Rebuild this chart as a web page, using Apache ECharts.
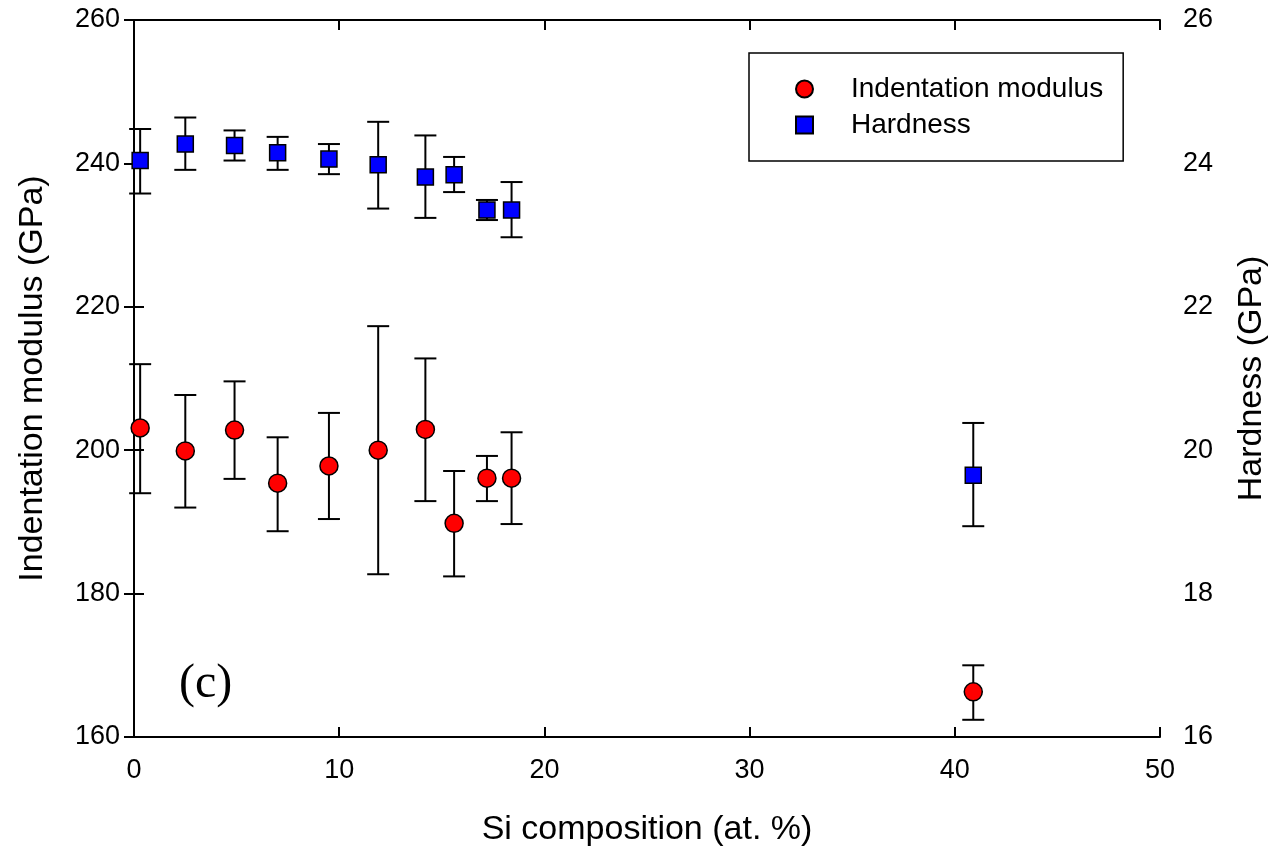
<!DOCTYPE html>
<html lang="en">

<head>
  <meta charset="UTF-8">
  <title>Indentation modulus and hardness vs Si composition</title>
  <script src="https://cdn.jsdelivr.net/npm/echarts@6/dist/echarts.min.js"></script>
</head>

<body style="margin:0">
  <div id="main" style="width: 1272px;height:852px;"></div>

  <script>
    // Si composition (at. %)
    var siComp = [0.3, 2.5, 4.9, 7.0, 9.5, 11.9, 14.2, 15.6, 17.2, 18.4, 40.9];
    // indentation modulus (GPa) with error bar ends
    var modulus = [203.1, 199.9, 202.8, 195.4, 197.8, 200.0, 202.9, 189.8, 196.1, 196.1, 166.3];
    var modulusLow = [194.0, 192.0, 196.0, 188.7, 190.4, 182.7, 192.9, 182.4, 192.9, 189.7, 162.4];
    var modulusHigh = [212.0, 207.7, 209.6, 201.8, 205.2, 217.3, 212.8, 197.1, 199.2, 202.5, 170.0];
    // hardness (GPa) with error bar ends
    var hardness = [24.04, 24.27, 24.25, 24.15, 24.06, 23.98, 23.81, 23.84, 23.35, 23.35, 19.65];
    var hardnessLow = [23.58, 23.91, 24.04, 23.91, 23.85, 23.37, 23.24, 23.60, 23.21, 22.97, 18.94];
    var hardnessHigh = [24.48, 24.64, 24.46, 24.37, 24.27, 24.58, 24.39, 24.09, 23.49, 23.74, 20.38];

    var font = 'Liberation Sans, Arial, sans-serif';

    function pairs(xs, ys) {
      return xs.map(function (x, i) { return [x, ys[i]]; });
    }

    function bars(xs, lo, hi) {
      return xs.map(function (x, i) { return [x, lo[i], hi[i]]; });
    }

    // vertical error bar with caps
    function renderErrorBar(params, api) {
      var top = api.coord([api.value(0), api.value(2)]);
      var bot = api.coord([api.value(0), api.value(1)]);
      var half = 11;
      var style = { stroke: '#000', lineWidth: 2, fill: null };
      return {
        type: 'group',
        children: [
          { type: 'line', shape: { x1: top[0], y1: top[1], x2: bot[0], y2: bot[1] }, style: style },
          { type: 'line', shape: { x1: top[0] - half, y1: top[1], x2: top[0] + half, y2: top[1] }, style: style },
          { type: 'line', shape: { x1: bot[0] - half, y1: bot[1], x2: bot[0] + half, y2: bot[1] }, style: style }
        ]
      };
    }

    var axisLine = { lineStyle: { color: '#000', width: 2 } };
    var axisTick = { inside: true, length: 10, lineStyle: { color: '#000', width: 2 } };
    var axisLabel = { color: '#000', fontSize: 27, fontFamily: font };
    var nameStyle = { color: '#000', fontSize: 34, fontFamily: font };

    var myChart = echarts.init(document.getElementById('main'));

    var option = {
      backgroundColor: '#fff',
      animation: false,
      title: {
        text: '(c)',
        left: 174,
        top: 655,
        textStyle: { fontFamily: 'Liberation Serif, Times New Roman, serif', fontSize: 48, fontWeight: 'normal', color: '#000' }
      },
      grid: { left: 134, right: 112, top: 20, bottom: 115, outerBoundsMode: 'none', containLabel: false },
      legend: {
        data: ['Indentation modulus', 'Hardness'],
        orient: 'vertical',
        left: 749,
        top: 53,
        width: 378,
        padding: [22, 20, 22, 46],
        itemGap: 8,
        itemWidth: 17,
        itemHeight: 17,
        borderColor: '#000',
        borderWidth: 1.5,
        textStyle: { fontSize: 28, fontFamily: font, color: '#000', padding: [0, 0, 0, 33] }
      },
      xAxis: [{
        type: 'value',
        min: 0,
        max: 50,
        interval: 10,
        name: 'Si composition (at. %)',
        nameLocation: 'middle',
        nameGap: 76,
        nameTextStyle: nameStyle,
        axisLine: axisLine,
        axisTick: axisTick,
        axisLabel: Object.assign({ margin: 20 }, axisLabel),
        splitLine: { show: false }
      }, {
        type: 'value',
        position: 'top',
        min: 0,
        max: 50,
        interval: 10,
        axisLine: axisLine,
        axisTick: axisTick,
        axisLabel: { show: false },
        splitLine: { show: false }
      }],
      yAxis: [{
        type: 'value',
        position: 'left',
        min: 160,
        max: 260,
        interval: 20,
        name: 'Indentation modulus (GPa)',
        nameLocation: 'middle',
        nameRotate: 90,
        nameGap: 84,
        nameTextStyle: nameStyle,
        axisLine: axisLine,
        axisTick: axisTick,
        axisLabel: Object.assign({ margin: 14 }, axisLabel),
        splitLine: { show: false }
      }, {
        type: 'value',
        position: 'right',
        min: 16,
        max: 26,
        interval: 2,
        name: 'Hardness (GPa)',
        nameLocation: 'middle',
        nameRotate: 90,
        nameGap: 75,
        nameTextStyle: nameStyle,
        axisLine: axisLine,
        axisTick: axisTick,
        axisLabel: Object.assign({ margin: 23 }, axisLabel),
        splitLine: { show: false }
      }],
      series: [{
        type: 'custom',
        name: 'modulusErr',
        xAxisIndex: 0,
        yAxisIndex: 0,
        renderItem: renderErrorBar,
        encode: { x: 0, y: [1, 2] },
        data: bars(siComp, modulusLow, modulusHigh),
        z: 2
      }, {
        type: 'custom',
        name: 'hardnessErr',
        xAxisIndex: 0,
        yAxisIndex: 1,
        renderItem: renderErrorBar,
        encode: { x: 0, y: [1, 2] },
        data: bars(siComp, hardnessLow, hardnessHigh),
        z: 2
      }, {
        type: 'scatter',
        name: 'Indentation modulus',
        xAxisIndex: 0,
        yAxisIndex: 0,
        symbol: 'circle',
        symbolSize: 18,
        itemStyle: { color: '#ff0000', borderColor: '#000', borderWidth: 1.5, opacity: 1 },
        data: pairs(siComp, modulus),
        z: 3
      }, {
        type: 'scatter',
        name: 'Hardness',
        xAxisIndex: 0,
        yAxisIndex: 1,
        symbol: 'rect',
        symbolSize: 16,
        itemStyle: { color: '#0000ff', borderColor: '#000', borderWidth: 1.5, opacity: 1 },
        data: pairs(siComp, hardness),
        z: 3
      }]
    };

    myChart.setOption(option);
  </script>
</body>

</html>
